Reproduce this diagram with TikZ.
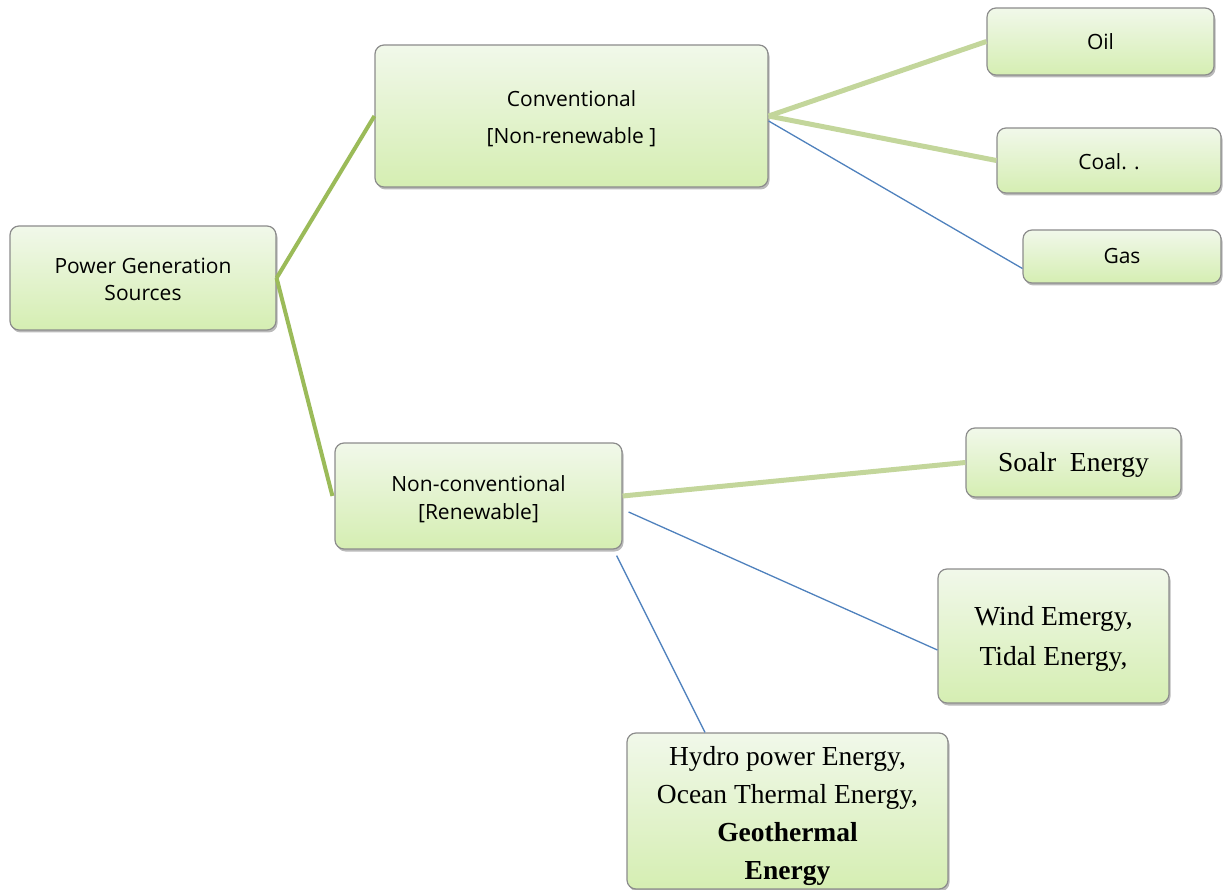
\documentclass[tikz,border=0pt]{standalone}
\usepackage{fontspec}
\setmainfont{Liberation Serif}
\newfontfamily\osans{Open Sans}
\usetikzlibrary{shadows,calc}
\definecolor{boxtop}{HTML}{F1F8EA}
\definecolor{boxbot}{HTML}{D5EEB2}
\definecolor{boxline}{HTML}{8C8C8C}
\definecolor{gline}{HTML}{9BBB59}
\definecolor{lgline}{HTML}{C3D69B}
\definecolor{bline}{HTML}{4F81BD}
\tikzset{
  box/.style={draw=boxline, line width=1.2pt, rounded corners=9pt, top color=boxtop, bottom color=boxbot,
    drop shadow={shadow xshift=1.5pt, shadow yshift=-2.5pt, fill=black!45, opacity=0.6},
    inner sep=0pt},
  stxt/.style={inner sep=0pt, align=center, font=\osans\fontsize{21}{27}\selectfont},
  rtxt/.style={inner sep=0pt, align=center, font=\fontsize{27.5}{38}\selectfont},
  thickg/.style={draw=gline, line width=4pt},
  thicklg/.style={draw=lgline, line width=5pt},
  thinb/.style={draw=bline, line width=1.3pt}
}
\begin{document}
\begin{tikzpicture}[x=1pt,y=-1pt]
\useasboundingbox (0,0) rectangle (1223,890);
% boxes
\node[box, minimum width=266pt, minimum height=104pt] (pgs) at (143,278) {};
\node[box, minimum width=393pt, minimum height=142pt] (conv) at (571.5,116) {};
\node[box, minimum width=227pt, minimum height=67pt] (oil) at (1100.5,41.5) {};
\node[box, minimum width=224pt, minimum height=65pt] (coal) at (1109,160.5) {};
\node[box, minimum width=198pt, minimum height=53pt] (gas) at (1122,256.5) {};
\node[box, minimum width=287pt, minimum height=106pt] (nonc) at (478.5,496) {};
\node[box, minimum width=215pt, minimum height=69pt] (solar) at (1073.5,462.5) {};
\node[box, minimum width=231pt, minimum height=134pt] (wind) at (1053.5,636) {};
\node[box, minimum width=321pt, minimum height=156pt] (hydro) at (787.5,811) {};
% texts
\node[stxt] (pgs-t) at ([yshift=-1pt]pgs.center) {Power Generation\\Sources};
\node[stxt, font=\osans\fontsize{21}{37}\selectfont] (conv-t) at ([yshift=-3pt]conv.center) {Conventional\\{[Non-renewable ]}};
\node[stxt] (oil-t) at (oil.center) {Oil};
\node[stxt] (coal-t) at ([yshift=-1pt]coal.center) {Coal. .};
\node[stxt] (gas-t) at (gas.center) {Gas};
\node[stxt, font=\osans\fontsize{21}{28}\selectfont] (nonc-t) at ([yshift=-3pt]nonc.center) {Non-conventional\\{[Renewable]}};
\node[rtxt] (solar-t) at ([yshift=-2pt]solar.center) {Soalr\ \ Energy};
\node[rtxt, font=\fontsize{27.5}{40}\selectfont] (wind-t) at ([yshift=-3pt]wind.center) {Wind Emergy,\\Tidal Energy,};
\node[rtxt] (hydro-t) at ([yshift=-5pt]hydro.center) {Hydro power Energy,\\Ocean Thermal Energy,\\\textbf{Geothermal}\\\textbf{Energy}};
% connectors
\draw[thickg] (pgs.east) -- (conv.west);
\draw[thickg] (pgs.east) -- ([xshift=-2pt]nonc.west);
\draw[thicklg] (conv.east) -- (oil.west);
\draw[thicklg] (conv.east) -- (coal.west);
\draw[thinb] ([yshift=-5pt]conv.east) -- ([yshift=-12pt]gas.west);
\draw[thicklg] (nonc.east) -- (solar.west);
\draw[thinb] ([xshift=6pt,yshift=-16pt]nonc.east) -- ([yshift=-14pt]wind.west);
\draw[thinb] ($(nonc.south east)+(-6pt,-6pt)$) -- ($(hydro.north west)!0.244!(hydro.north east)$);
\end{tikzpicture}
\end{document}
